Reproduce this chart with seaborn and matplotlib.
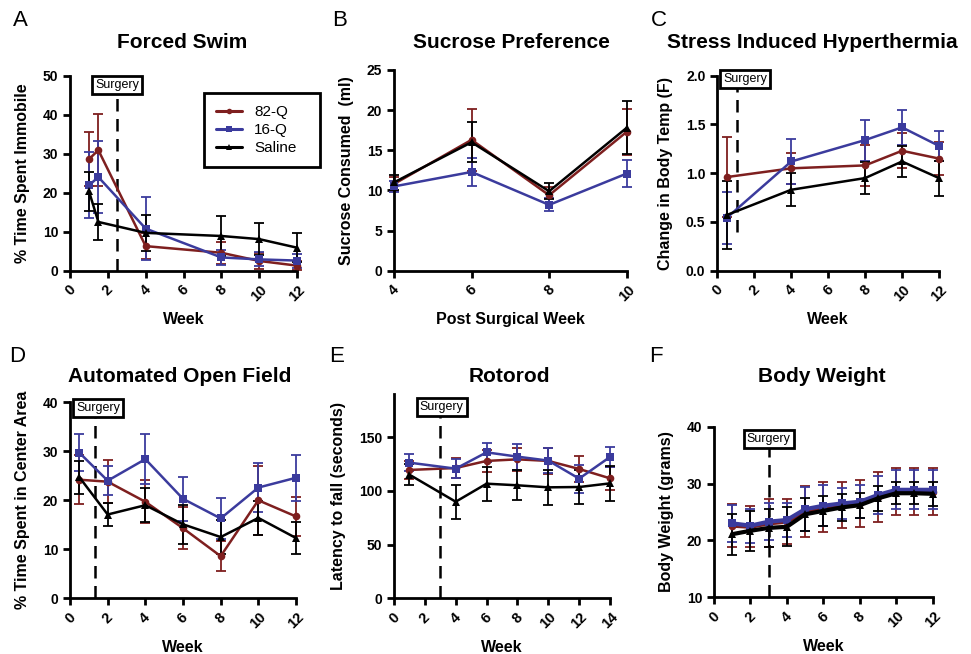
import matplotlib
matplotlib.use("Agg")
import matplotlib.pyplot as plt
import numpy as np
import pandas as pd
import seaborn as sns
from matplotlib.lines import Line2D

# groups and styling
groups = ['82-Q', '16-Q', 'Saline']
colors = {'82-Q': '#7e1f1f', '16-Q': '#3b3b9d', 'Saline': '#000000'}
markers = {'82-Q': 'o', '16-Q': 's', 'Saline': '^'}

# A - Forced Swim
swim_week = [1, 1.5, 4, 8, 10, 12]
swim_82q = [28.6, 30.9, 6.3, 4.6, 2.5, 1.3]
swim_82q_err = [7.0, 9.2, 3.3, 2.8, 2.0, 1.2]
swim_16q = [21.9, 24.0, 10.8, 3.4, 2.9, 2.6]
swim_16q_err = [8.5, 9.2, 8.1, 2.0, 1.8, 1.8]
swim_sal = [20.4, 12.5, 9.7, 8.9, 8.1, 5.9]
swim_sal_err = [5.0, 4.7, 4.7, 5.1, 4.2, 3.7]

# B - Sucrose Preference
suc_week = [4, 6, 8, 10]
suc_82q = [10.8, 16.3, 9.4, 17.3]
suc_82q_err = [0.9, 3.9, 1.0, 2.9]
suc_16q = [10.5, 12.3, 8.2, 12.1]
suc_16q_err = [0.7, 1.7, 0.8, 1.7]
suc_sal = [11.0, 16.0, 9.9, 17.8]
suc_sal_err = [0.9, 2.5, 1.0, 3.3]

# C - Stress Induced Hyperthermia
sih_week = [0.5, 4, 8, 10, 12]
sih_82q = [0.96, 1.05, 1.08, 1.23, 1.15]
sih_82q_err = [0.41, 0.16, 0.21, 0.18, 0.17]
sih_16q = [0.54, 1.12, 1.34, 1.47, 1.28]
sih_16q_err = [0.27, 0.23, 0.21, 0.18, 0.15]
sih_sal = [0.57, 0.83, 0.95, 1.12, 0.95]
sih_sal_err = [0.35, 0.17, 0.16, 0.16, 0.18]

# D - Automated Open Field
of_week = [0.5, 2, 4, 6, 8, 10, 12]
of_82q = [24.2, 23.8, 19.7, 14.3, 8.6, 20.0, 16.7]
of_82q_err = [5.0, 4.4, 4.4, 4.3, 3.0, 7.0, 4.0]
of_16q = [29.7, 24.0, 28.4, 20.3, 16.3, 22.6, 24.6]
of_16q_err = [3.8, 2.9, 5.1, 4.5, 4.2, 5.0, 4.7]
of_sal = [24.7, 17.1, 19.0, 15.1, 12.5, 16.4, 12.3]
of_sal_err = [3.4, 2.4, 3.5, 4.0, 3.5, 3.5, 3.3]

# E - Rotorod
rr_week = [1, 4, 6, 8, 10, 12, 14]
rr_82q = [119.6, 121.4, 128.0, 129.5, 128.0, 120.5, 111.8]
rr_82q_err = [8, 9, 10, 11, 12, 12, 11]
rr_16q = [126.4, 120.8, 136.0, 132.0, 128.3, 111.5, 131.7]
rr_16q_err = [8, 9, 9, 12, 12, 13, 9]
rr_sal = [115.2, 90.0, 106.8, 105.3, 103.4, 103.7, 107.1]
rr_sal_err = [10, 16, 16, 14, 16, 16, 16]

# F - Body Weight
bw_week = [1, 2, 3, 4, 5, 6, 7, 8, 9, 10, 11, 12]
bw_82q = [22.6, 22.4, 23.0, 23.3, 25.1, 25.8, 26.2, 26.5, 27.7, 28.6, 28.6, 28.6]
bw_82q_err = [3.8, 3.6, 4.2, 3.9, 4.5, 4.4, 4.1, 4.1, 4.4, 4.2, 4.2, 4.2]
bw_16q = [23.0, 22.6, 23.3, 23.6, 25.5, 26.1, 26.5, 26.8, 28.0, 28.9, 28.9, 28.9]
bw_16q_err = [3.3, 3.0, 3.2, 3.0, 3.9, 3.6, 2.8, 2.9, 3.3, 3.4, 3.4, 3.4]
bw_sal = [21.1, 21.7, 22.2, 22.4, 24.6, 25.2, 25.8, 26.2, 27.4, 28.3, 28.3, 28.2]
bw_sal_err = [3.6, 3.5, 3.4, 3.4, 2.9, 2.6, 2.3, 2.2, 2.2, 1.9, 1.9, 2.1]

sns.set_style('ticks')
plt.rcParams['font.family'] = ['Liberation Sans', 'DejaVu Sans']
plt.rcParams['axes.linewidth'] = 2
plt.rcParams['xtick.major.width'] = 2
plt.rcParams['ytick.major.width'] = 2
plt.rcParams['xtick.major.size'] = 5
plt.rcParams['ytick.major.size'] = 5
plt.rcParams['xtick.color'] = 'black'
plt.rcParams['ytick.color'] = 'black'
plt.rcParams['text.color'] = 'black'
plt.rcParams['axes.labelcolor'] = 'black'
plt.rcParams['axes.edgecolor'] = 'black'

W, H = 971, 654
fig = plt.figure(figsize=(W / 100, H / 100), dpi=100)


def make_axes(left, right, top, bottom):
    return fig.add_axes([left / W, 1 - bottom / H, (right - left) / W, (bottom - top) / H])


def draw_panel(ax, week, vals, errs, lw=1.8, ms=5.5):
    rows = []
    for g, v in zip(groups, vals):
        for x, y in zip(week, v):
            rows.append({'week': x, 'value': y, 'group': g})
    df = pd.DataFrame(rows)
    sns.lineplot(data=df, x='week', y='value', hue='group', style='group',
                 hue_order=groups, style_order=groups, palette=colors,
                 markers=markers, dashes=False, linewidth=lw, markersize=ms,
                 markeredgewidth=0, legend=False, ax=ax, clip_on=False, zorder=3)
    for g, v, e in zip(groups, vals, errs):
        ax.errorbar(week, v, yerr=e, fmt='none', ecolor=colors[g], elinewidth=1.3,
                    capsize=3.5, capthick=1.3, clip_on=False, zorder=2)


def style_axes(ax, xlim, xticks, ylim, yticks, xlabel, ylabel, yfmt='{:g}'):
    ax.set_xlim(*xlim)
    ax.set_ylim(*ylim)
    ax.set_xticks(xticks)
    ax.set_yticks(yticks)
    ax.set_xticklabels([str(t) for t in xticks], rotation=45, fontsize=10.5,
                       fontweight='bold', ha='center')
    ax.set_yticklabels([yfmt.format(t) for t in yticks], fontsize=10, fontweight='bold')
    ax.set_xlabel(xlabel, fontsize=11.5, fontweight='bold', labelpad=6)
    ax.set_ylabel(ylabel, fontsize=11.5, fontweight='bold', labelpad=9)
    sns.despine(ax=ax)


def surgery(ax, x, y0, y1, bx, by):
    ax.plot([x, x], [y0, y1], color='black', lw=1.8, dashes=(5, 3), clip_on=False, zorder=1)
    ax.text(bx, by, 'Surgery', ha='center', va='center', fontsize=9, zorder=5,
            bbox=dict(boxstyle='square,pad=0.25', fc='white', ec='black', lw=2))


# ---- A
axA = make_axes(70, 297, 75.7, 270.7)
draw_panel(axA, swim_week, [swim_82q, swim_16q, swim_sal],
           [swim_82q_err, swim_16q_err, swim_sal_err])
style_axes(axA, (0, 12), list(range(0, 13, 2)), (0, 50), list(range(0, 51, 10)),
           'Week', '% Time Spent Immobile')
surgery(axA, 2.5, 0, 46, 2.5, 47.7)
handles = [Line2D([], [], color=colors[g], marker=markers[g], lw=2.2, ms=4,
                  markeredgewidth=0) for g in groups]
leg = axA.legend(handles, groups, loc='upper left', bbox_to_anchor=(0.59, 0.5, 0.51, 0.41),
                 mode='expand', fontsize=11, frameon=True, fancybox=False, framealpha=1,
                 handlelength=1.7, borderpad=0.8, labelspacing=0.25, borderaxespad=0)
leg.get_frame().set_edgecolor('black')
leg.get_frame().set_linewidth(2)

# ---- B
axB = make_axes(394, 626.7, 70, 270.7)
draw_panel(axB, suc_week, [suc_82q, suc_16q, suc_sal],
           [suc_82q_err, suc_16q_err, suc_sal_err])
style_axes(axB, (4, 10), [4, 6, 8, 10], (0, 25), list(range(0, 26, 5)),
           'Post Surgical Week', 'Sucrose Consumed  (ml)')

# ---- C
axC = make_axes(717.3, 939, 75.7, 270.7)
draw_panel(axC, sih_week, [sih_82q, sih_16q, sih_sal],
           [sih_82q_err, sih_16q_err, sih_sal_err])
style_axes(axC, (0, 12), list(range(0, 13, 2)), (0, 2.0), [0, 0.5, 1.0, 1.5, 2.0],
           'Week', 'Change in Body Temp (F)', yfmt='{:.1f}')
surgery(axC, 1.05, 0.4, 1.9, 1.5, 1.97)

# ---- D
axD = make_axes(70, 296, 402.3, 598.3)
draw_panel(axD, of_week, [of_82q, of_16q, of_sal], [of_82q_err, of_16q_err, of_sal_err])
style_axes(axD, (0, 12), list(range(0, 13, 2)), (0, 40), list(range(0, 41, 10)),
           'Week', '% Time Spent in Center Area')
surgery(axD, 1.33, 0, 37.5, 1.5, 38.8)

# ---- E
axE = make_axes(394, 610, 394.4, 598.3)
draw_panel(axE, rr_week, [rr_82q, rr_16q, rr_sal], [rr_82q_err, rr_16q_err, rr_sal_err])
style_axes(axE, (0, 14), list(range(0, 15, 2)), (0, 190), [0, 50, 100, 150],
           'Week', 'Latency to fall (seconds)')
surgery(axE, 3, 0, 172, 3.1, 178)

# ---- F
axF = make_axes(714, 932.7, 426.7, 597.3)
draw_panel(axF, bw_week, [bw_82q, bw_16q, bw_sal], [bw_82q_err, bw_16q_err, bw_sal_err],
           lw=3.0, ms=5.5)
style_axes(axF, (0, 12), list(range(0, 13, 2)), (10, 40), [10, 20, 30, 40],
           'Week', 'Body Weight (grams)')
surgery(axF, 3, 10, 36.5, 3.0, 37.9)

# titles and panel letters
titles = [('Forced Swim', 182.5, 43), ('Sucrose Preference', 511, 43),
          ('Stress Induced Hyperthermia', 812, 42), ('Automated Open Field', 180, 376),
          ('Rotorod', 509, 376), ('Body Weight', 822, 376)]
for text, x, y in titles:
    fig.text(x / W, 1 - y / H, text, ha='center', va='center', fontsize=15,
             fontweight='bold')

letters = [('A', 20, 21), ('B', 340, 20), ('C', 659, 20),
           ('D', 17, 357), ('E', 337, 357), ('F', 656, 357)]
for text, x, y in letters:
    fig.text(x / W, 1 - y / H, text, ha='center', va='center', fontsize=16)

fig.savefig('out.png', dpi=100)
